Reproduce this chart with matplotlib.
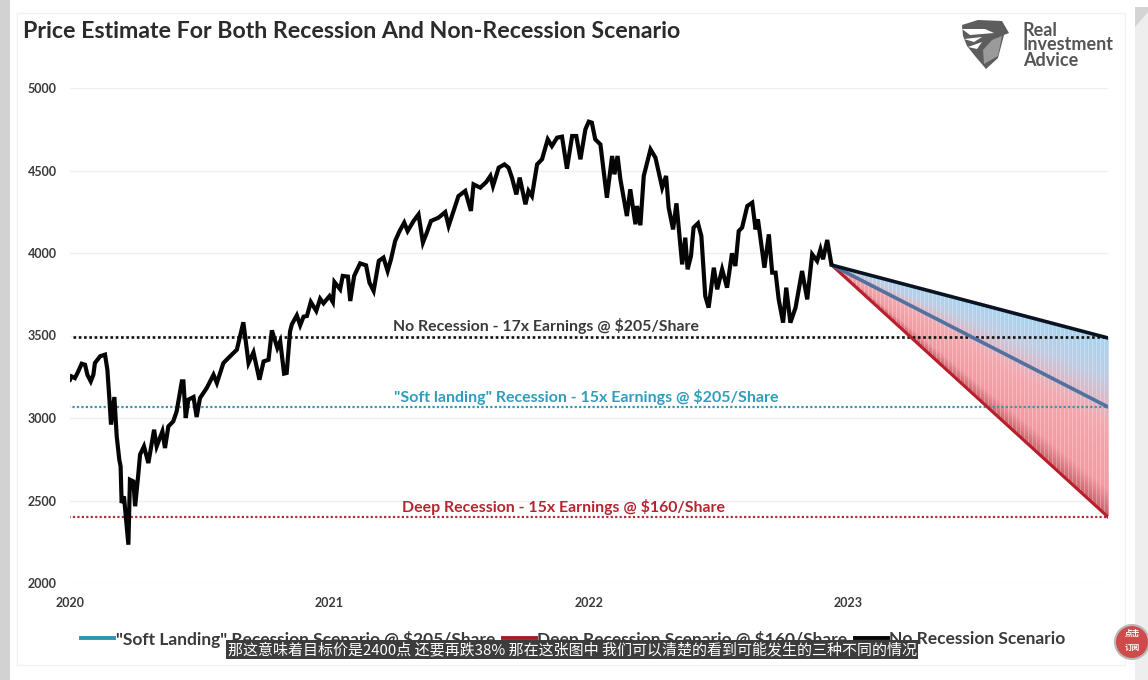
import numpy as np
from matplotlib import pyplot as plt
from matplotlib.lines import Line2D
from matplotlib.patches import Circle, Polygon, Rectangle

# S&P index, x is years since the start of 2020
spx_years = [0.000, 0.006, 0.019, 0.032, 0.045, 0.058, 0.067, 0.080, 0.090, 0.096, 0.116, 0.135, 0.144, 0.152,
             0.158, 0.171, 0.180, 0.190, 0.195, 0.199, 0.208, 0.216, 0.225, 0.231, 0.244, 0.251, 0.263, 0.270,
             0.285, 0.302, 0.324, 0.334, 0.356, 0.366, 0.379, 0.398, 0.411, 0.431, 0.437, 0.446, 0.456, 0.476,
             0.488, 0.501, 0.527, 0.553, 0.566, 0.591, 0.617, 0.643, 0.668, 0.688, 0.707, 0.730, 0.746, 0.765,
             0.778, 0.799, 0.810, 0.825, 0.835, 0.848, 0.855, 0.874, 0.887, 0.900, 0.913, 0.928, 0.949, 0.964,
             0.977, 1.000, 1.013, 1.019, 1.041, 1.051, 1.071, 1.080, 1.095, 1.118, 1.141, 1.154, 1.170, 1.190,
             1.208, 1.224, 1.237, 1.253, 1.270, 1.288, 1.301, 1.324, 1.343, 1.360, 1.375, 1.391, 1.420, 1.446,
             1.459, 1.485, 1.497, 1.523, 1.545, 1.555, 1.581, 1.604, 1.620, 1.630, 1.652, 1.674, 1.690, 1.703,
             1.720, 1.733, 1.755, 1.767, 1.780, 1.800, 1.819, 1.841, 1.857, 1.877, 1.896, 1.915, 1.935, 1.951,
             1.967, 1.986, 1.999, 2.011, 2.024, 2.044, 2.069, 2.089, 2.098, 2.110, 2.121, 2.146, 2.159, 2.179,
             2.185, 2.198, 2.211, 2.237, 2.256, 2.282, 2.297, 2.307, 2.324, 2.337, 2.359, 2.371, 2.380, 2.393,
             2.403, 2.420, 2.433, 2.448, 2.461, 2.481, 2.494, 2.513, 2.532, 2.551, 2.564, 2.577, 2.590, 2.610,
             2.629, 2.642, 2.651, 2.676, 2.693, 2.706, 2.719, 2.731, 2.748, 2.760, 2.776, 2.796, 2.821, 2.841,
             2.860, 2.879, 2.892, 2.902, 2.918, 2.933]
spx_values = [3232, 3252, 3242, 3283, 3329, 3323, 3262, 3222, 3262, 3333, 3374, 3384, 3293, 3111,
              2960, 3127, 2889, 2747, 2707, 2485, 2525, 2384, 2232, 2626, 2616, 2465, 2656, 2778,
              2828, 2727, 2929, 2828, 2919, 2818, 2949, 2980, 3040, 3222, 3222, 3000, 3111, 3127,
              3006, 3121, 3182, 3262, 3212, 3333, 3374, 3414, 3580, 3333, 3398, 3232, 3343, 3353,
              3531, 3424, 3465, 3269, 3273, 3525, 3568, 3622, 3562, 3614, 3618, 3703, 3649, 3723,
              3695, 3739, 3703, 3824, 3780, 3861, 3857, 3709, 3861, 3937, 3925, 3820, 3770, 3952,
              3972, 3891, 3962, 4073, 4133, 4184, 4133, 4194, 4234, 4063, 4123, 4194, 4214, 4248,
              4164, 4289, 4345, 4376, 4255, 4416, 4396, 4430, 4467, 4406, 4517, 4537, 4517, 4457,
              4355, 4457, 4295, 4376, 4345, 4537, 4568, 4689, 4648, 4699, 4705, 4511, 4709, 4709,
              4568, 4749, 4796, 4790, 4689, 4658, 4335, 4588, 4477, 4588, 4446, 4224, 4386, 4174,
              4285, 4168, 4467, 4628, 4578, 4396, 4467, 4275, 4143, 4301, 3931, 4093, 3901, 3982,
              4154, 4180, 4103, 3739, 3669, 3911, 3780, 3901, 3790, 3998, 3921, 4133, 4154, 4285,
              4305, 4143, 4204, 3911, 4113, 3881, 3881, 3719, 3578, 3790, 3578, 3669, 3891, 3719,
              3992, 3952, 4022, 3962, 4079, 3941]

# scenario targets
forecast_years = [2022.935, 2024.0]
forecast_start = 3927
no_recession_end = 3485
soft_landing_end = 3067
deep_recession_end = 2400
no_recession_level = 3490
soft_landing_level = 3065
deep_recession_level = 2400

year_ticks = [2020, 2021, 2022, 2023]
price_ticks = [2000, 2500, 3000, 3500, 4000, 4500, 5000]

title = 'Price Estimate For Both Recession And Non-Recession Scenario'
subtitle = '那这意味着目标价是2400点 还要再跌38% 那在这张图中 我们可以清楚的看到可能发生的三种不同的情况'

W, H = 1148, 680
BLACK = '#050505'
BLUE = '#2f9dbd'
RED = '#b3262f'
TEXT = '#3a3a3a'
plt.rcParams['font.family'] = ['Lato', 'DejaVu Sans']

fig = plt.figure(figsize=(W / 100, H / 100), dpi=100, facecolor='white')

# page behind the chart, in pixel coordinates
bg = fig.add_axes([0, 0, 1, 1], zorder=0)
bg.set_xlim(0, W)
bg.set_ylim(H, 0)
bg.axis('off')
bg.add_patch(Rectangle((0, 0), 10, H, color='#d2d2d2', lw=0))
bg.add_patch(Rectangle((1135, 7), 13, H - 7, color='#eeeeee', lw=0))
bg.add_patch(Polygon([(1135, 7), (1148, 7), (1148, 12), (1135, 27)], color='#d4d4d4', lw=0))
bg.add_patch(Rectangle((17, 13), 1108, 652, fc='white', ec='#f1f1f1', lw=1))

# logo
bg.add_patch(Polygon([(962, 25), (978, 20), (1002, 21), (1009, 33), (1004, 35), (998, 58), (986, 69),
                      (975, 56), (967, 46), (963, 36)], color='#5d5d5d', lw=0))
bg.add_patch(Polygon([(984, 64), (983, 50), (992, 40), (1002, 36), (998, 56)], color='#9a9a9a', lw=0))
bg.add_patch(Polygon([(962, 29), (985, 29), (994, 33), (970, 35)], color='white', lw=0))
bg.add_patch(Polygon([(964, 39), (982, 37), (974, 42)], color='white', lw=0))
bg.add_patch(Polygon([(968, 47), (982, 42), (977, 49)], color='white', lw=0))
for label, y in zip(['Real', 'Investment', 'Advice'], [30, 45, 60]):
    bg.text(1023, y, label, fontsize=13.0, fontweight='bold', color='#555555', va='center', ha='left')

# chart axes, 2020 to 2024 across and 2000 to 5000 up
ax = fig.add_axes([70 / W, 1 - 583 / H, (1108 - 70) / W, (583 - 88) / H], zorder=1)
ax.patch.set_alpha(0)
for spine in ax.spines.values():
    spine.set_visible(False)

# shaded wedge between the no recession and deep recession lines
n_cols = 277
n_rows = 500
col_x = np.linspace(forecast_years[0], forecast_years[1], n_cols)
row_y = np.linspace(4000, 2300, n_rows)
top = np.interp(col_x, forecast_years, [forecast_start, no_recession_end])
bottom = np.interp(col_x, forecast_years, [forecast_start, deep_recession_end])
shade = np.zeros((n_rows, n_cols, 4))
stops = [0.0, 0.22, 0.5, 0.85, 1.0]
stop_colors = np.array([[168, 212, 240], [190, 205, 228], [244, 168, 174], [242, 155, 162], [205, 100, 110]]) / 255
for i in range(n_cols):
    f = (top[i] - row_y) / max(top[i] - bottom[i], 1)
    inside = (f >= 0) & (f <= 1)
    for c in range(3):
        shade[:, i, c] = np.interp(f, stops, stop_colors[:, c])
    shade[:, i, 3] = inside
    # thin pale stripes like the drop lines of the original
    if i % 4 == 0:
        shade[:, i, :3] = shade[:, i, :3] * 0.72 + 0.28
ax.imshow(shade, extent=[forecast_years[0], forecast_years[1], 2300, 4000], aspect='auto',
          interpolation='nearest', zorder=1)

ax.grid(True, axis='y', color='#efefef', lw=1)
ax.set_axisbelow(True)

# target levels
ax.hlines(no_recession_level, 2020.012, 2024.02, color='#111111', lw=1.9, linestyles=(0, (1, 1)), zorder=2)
ax.hlines(soft_landing_level, 2019.992, 2024.0, color='#3f93ad', lw=1.6, linestyles=(0, (1, 1)), zorder=2)
ax.hlines(deep_recession_level, 2019.977, 2024.0, color='#a8303a', lw=1.6, linestyles=(0, (1, 1)), zorder=2)

# index and the three scenario lines
ax.plot(forecast_years, [forecast_start, deep_recession_end], color='#b81f2b', lw=2.2, zorder=3)
ax.plot(forecast_years, [forecast_start, soft_landing_end], color='#51719f', lw=2.6, zorder=3)
ax.plot(forecast_years, [forecast_start, no_recession_end], color='#0a1420', lw=2.6, zorder=3)
ax.plot(2020 + np.array(spx_years), spx_values, color=BLACK, lw=3.0, solid_joinstyle='miter', zorder=4)

ax.text(2021.245, 3560, 'No Recession - 17x Earnings @ $205/Share', color=TEXT, fontsize=11.45, fontweight='bold',
        va='center', ha='left')
ax.text(2021.248, 3127, '"Soft landing" Recession - 15x Earnings @ $205/Share', color=BLUE, fontsize=11.55,
        fontweight='bold', va='center', ha='left')
ax.text(2021.28, 2460, 'Deep Recession - 15x Earnings @ $160/Share', color=RED, fontsize=11.45, fontweight='bold',
        va='center', ha='left')

ax.set_xlim(2020, 2024)
ax.set_ylim(2000, 5000)
ax.set_xticks(year_ticks)
ax.set_yticks(price_ticks)
ax.tick_params(axis='both', length=0, labelsize=9, labelcolor=TEXT)
ax.tick_params(axis='y', pad=9.5)
ax.tick_params(axis='x', pad=10)
for lab in ax.get_xticklabels() + ax.get_yticklabels():
    lab.set_fontweight('bold')

handles = [Line2D([], [], color='#2f93b5', lw=2.8),
           Line2D([], [], color='#a31d28', lw=2.8),
           Line2D([], [], color=BLACK, lw=2.8)]
labels = ['"Soft Landing" Recession Scenario @ $205/Share',
          'Deep Recession Scenario @ $160/Share',
          'No Recession Scenario']
ax.legend(handles, labels, loc='center', bbox_to_anchor=(573.5 / W, 1 - 639 / H), bbox_transform=fig.transFigure,
          ncol=3, frameon=False, columnspacing=0.4, handlelength=1.9, handletextpad=0.1,
          labelcolor=TEXT, prop={'weight': 'bold', 'size': 12.55})

fig.text(23 / W, 1 - 31 / H, title, fontsize=16.7, fontweight='bold', color='#2b2b2b', va='center', ha='left')

# video caption and badge on top of everything
top_ax = fig.add_axes([0, 0, 1, 1], zorder=2)
top_ax.set_xlim(0, W)
top_ax.set_ylim(H, 0)
top_ax.axis('off')
top_ax.add_patch(Rectangle((226, 640), 692, 19, color='#3c3c3c', lw=0))
top_ax.text(572, 649.5, subtitle, color='white', fontsize=10.8, va='center', ha='center',
            family=['Noto Sans CJK SC', 'DejaVu Sans'])
top_ax.add_patch(Circle((1132, 642), 17, fc='#cf4b4b', ec='#b9b9b9', lw=1.5))
top_ax.text(1132, 633, '点击', color='white', fontsize=5.5, fontweight='bold', va='center', ha='center',
            family=['Noto Sans CJK SC', 'DejaVu Sans'])
top_ax.text(1132, 647, '订阅', color='white', fontsize=5.5, fontweight='bold', va='center', ha='center',
            family=['Noto Sans CJK SC', 'DejaVu Sans'])

fig.savefig('out.png', dpi=100)
